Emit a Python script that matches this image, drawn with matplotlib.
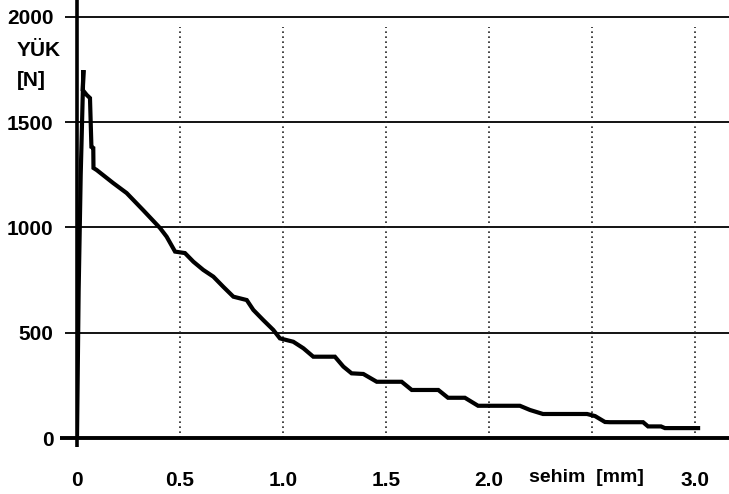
import matplotlib
matplotlib.use("Agg")
import matplotlib.pyplot as plt

plt.rcParams['font.family'] = ['Liberation Sans', 'DejaVu Sans']

# load-deflection curve
sehim = [0, 0.008, 0.018, 0.031, 0.028, 0.047, 0.063, 0.070, 0.079, 0.080,
         0.096, 0.175, 0.241, 0.320, 0.403, 0.435, 0.476, 0.524, 0.565, 0.613,
         0.662, 0.710, 0.759, 0.824, 0.856, 0.904, 0.953, 0.985, 1.050, 1.099,
         1.147, 1.252, 1.293, 1.333, 1.390, 1.455, 1.576, 1.625, 1.754, 1.801,
         1.883, 1.947, 2.150, 2.199, 2.262, 2.476, 2.515, 2.563, 2.587, 2.748,
         2.772, 2.835, 2.854, 3.015]
yuk = [0, 700, 1250, 1747, 1652, 1629, 1614, 1382, 1377, 1282,
       1272, 1211, 1163, 1083, 997, 956, 885, 878, 837, 798,
       766, 718, 671, 655, 608, 560, 513, 473, 457, 426,
       386, 386, 339, 307, 304, 267, 267, 228, 228, 191,
       191, 153, 153, 133, 114, 114, 104, 76, 75, 75,
       55, 55, 47, 47]

y_ticks = [0, 500, 1000, 1500, 2000]
x_ticks = [0, 0.5, 1.0, 1.5, 2.0, 3.0]
x_labels = ['0', '0.5', '1.0', '1.5', '2.0', '3.0']
v_grid = [0.5, 1.0, 1.5, 2.0, 2.5, 3.0]

W, H = 729, 494
fig = plt.figure(figsize=(W / 100, H / 100), dpi=100)
ax = fig.add_axes([77 / W, (H - 438) / H, (W - 77) / W, 438 / H])
xmax, ymax = 652 / 206, 438 * 4.748
ax.set_xlim(0, xmax)
ax.set_ylim(0, ymax)
for s in ax.spines.values():
    s.set_visible(False)

# grid
ax.hlines(y_ticks[1:], -0.06, xmax, color='black', lw=1.3, clip_on=False)
ax.vlines(v_grid, 0, 1950, color='#222222', lw=1.2, linestyles=(0, (1, 2)))
# axes lines
ax.plot([-0.083, xmax], [0, 0], color='black', lw=2.8, clip_on=False,
        solid_capstyle='butt')
ax.plot([0, 0], [-45, ymax], color='black', lw=2.6, clip_on=False,
        solid_capstyle='butt')

ax.plot(sehim, yuk, color='black', lw=3.0, solid_joinstyle='miter')

ax.set_yticks(y_ticks)
ax.set_xticks(x_ticks)
ax.set_xticklabels(x_labels)
ax.tick_params(axis='y', length=0, pad=17, labelsize=15)
ax.tick_params(axis='x', length=0, pad=24, labelsize=15)
for lab in ax.get_xticklabels() + ax.get_yticklabels():
    lab.set_fontweight('bold')

fig.text(17 / W, 1 - 50 / H, 'YÜK', fontsize=15, fontweight='bold',
         ha='left', va='center')
fig.text(17 / W, 1 - 80 / H, '[N]', fontsize=15, fontweight='bold',
         ha='left', va='center')
fig.text(586 / W, 1 - 477 / H, 'sehim  [mm]', fontsize=14, fontweight='bold',
         ha='center', va='center')

fig.savefig('out.png', dpi=100)
